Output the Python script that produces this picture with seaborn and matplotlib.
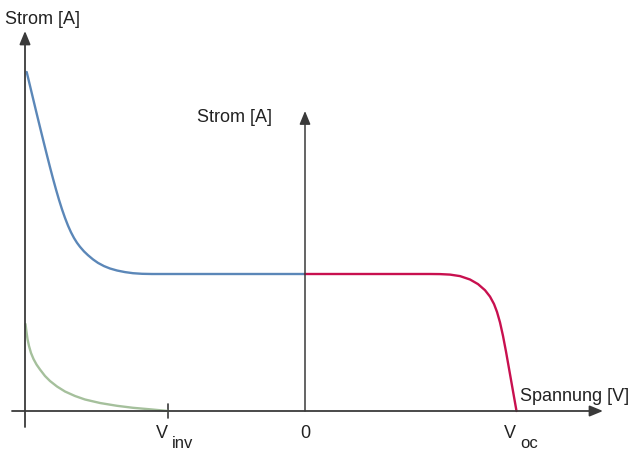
import matplotlib
matplotlib.use("Agg")
import matplotlib.pyplot as plt
import seaborn as sns
import pandas as pd

sns.set_theme(style="white")
plt.rcParams['font.family'] = ['Liberation Sans', 'DejaVu Sans']

# Values (voltage: 0 at the middle axis, current: 0 on the V axis)
blue_v = [-278.3, -275, -272, -269, -265, -261, -258, -255, -252, -249, -246, -243, -240,
          -237, -234, -231, -228, -225, -221, -217, -212, -207, -201, -195, -188, -180,
          -172, -163, -153, 0]
blue_i = [339, 325.2, 312.7, 300.2, 283.8, 267.6, 255.6, 243.8, 232.4, 221.5, 211.2, 201.7, 193.1,
          185.4, 178.7, 173, 168.2, 164.2, 159.6, 155.8, 151.6, 148.1, 144.9, 142.5, 140.5, 138.9,
          137.8, 137.2, 137, 137]

red_v = [0, 125, 135, 145, 155, 165, 173, 180, 185, 189, 192, 195, 198, 201, 204, 207, 211.5]
red_i = [137, 137, 136.9, 136.4, 134.9, 131.5, 126.9, 120.8, 114.4, 107, 99.1, 88.6, 75.1,
         59.4, 42.5, 25.5, 0]

green_v = [-279.5, -278.5, -277.5, -276, -274, -271.5, -268.5, -265, -260, -255, -248, -240,
           -230, -220, -205, -188, -172, -155, -137]
green_i = [87, 79, 72, 65, 58, 52, 46.5, 41.5, 35, 30, 24.5, 19.5,
           15, 11.5, 8, 5.2, 3.2, 1.7, 0]

tick_pos = [-137, 0, 211]
tick_main = ["V", "0", "V"]
tick_sub = ["inv", "", "oc"]

blue_c = "#5b87b8"
red_c = "#c8104f"
green_c = "#a5c09c"
axis_c = "#3a3a3a"
text_c = "#222222"

fig = plt.figure(figsize=(6.29, 4.52), dpi=100)
ax = fig.add_axes([0, 0, 1, 1])
ax.set_xlim(-305, 324)
ax.set_ylim(-40, 412)
ax.axis("off")

ap = dict(arrowstyle="-|>,head_length=0.8,head_width=0.33", color=axis_c, lw=1.3,
          mutation_scale=10, shrinkA=0, shrinkB=0)
# horizontal axis
ax.annotate("", xy=(298, 0), xytext=(-293, 0), arrowprops=ap)
# left vertical axis
ax.annotate("", xy=(-280, 380), xytext=(-280, -16), arrowprops=ap)
# middle vertical axis
ap2 = dict(ap, lw=1.1)
ax.annotate("", xy=(0, 300), xytext=(0, 0), arrowprops=ap2)
# V_inv tick
ax.plot([-137, -137], [-7, 7], color=axis_c, lw=1.2)

df_b = pd.DataFrame({"V": blue_v, "I": blue_i})
df_r = pd.DataFrame({"V": red_v, "I": red_i})
df_g = pd.DataFrame({"V": green_v, "I": green_i})
sns.lineplot(data=df_g, x="V", y="I", ax=ax, color=green_c, lw=1.7, sort=False)
sns.lineplot(data=df_b, x="V", y="I", ax=ax, color=blue_c, lw=1.7, sort=False)
sns.lineplot(data=df_r, x="V", y="I", ax=ax, color=red_c, lw=1.7, sort=False)
ax.axis("off")

fs = 13
ax.text(-300, 392, "Strom [A]", fontsize=fs, color=text_c, ha="left", va="center")
ax.text(-108, 294, "Strom [A]", fontsize=fs, color=text_c, ha="left", va="center")
ax.text(324, 15, "Spannung [V]", fontsize=fs, color=text_c, ha="right", va="center")
for pos, main, sub in zip(tick_pos, tick_main, tick_sub):
    if sub:
        ax.text(pos - 6, -26, main, fontsize=fs, color=text_c, ha="center", va="baseline")
        ax.text(pos + 4, -36, sub, fontsize=fs - 1, color=text_c, ha="left", va="baseline")
    else:
        ax.text(pos, -26, main, fontsize=fs, color=text_c, ha="center", va="baseline")

fig.savefig("out.png", dpi=100)
